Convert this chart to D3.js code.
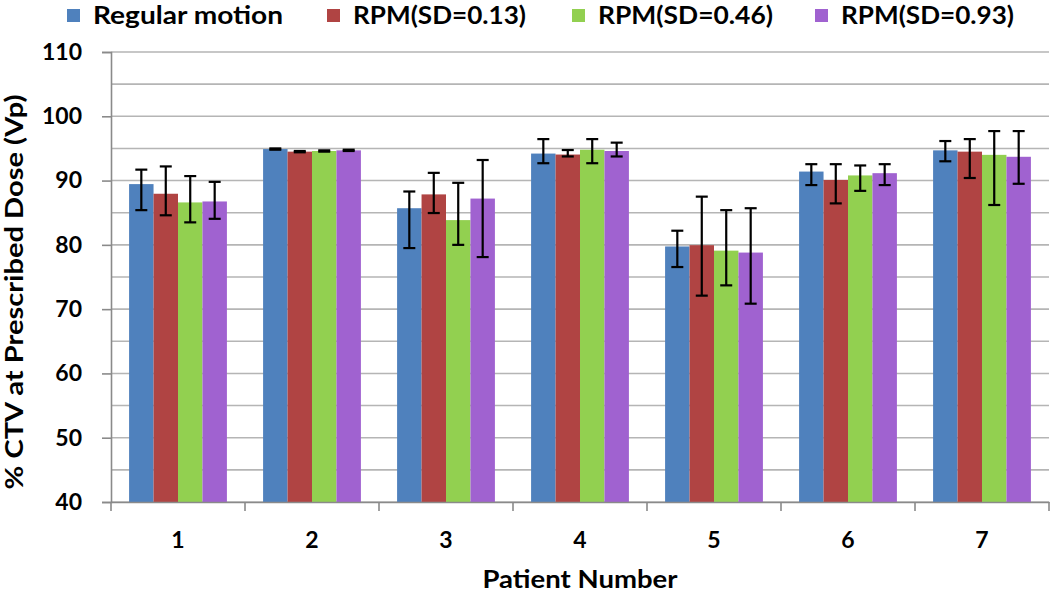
<!DOCTYPE html>
<html>
<head>
<meta charset="utf-8">
<script src="https://cdn.jsdelivr.net/npm/d3@7"></script>
<style>
  html, body { margin: 0; padding: 0; background: #fff; }
  svg { display: block; }
  text { font-family: Lato, "Open Sans", sans-serif; font-weight: bold; fill: #000; }
</style>
</head>
<body>
<svg id="chart" width="1050" height="594"></svg>
<script>
const patients = ["1", "2", "3", "4", "5", "6", "7"];
const seriesNames = ["Regular motion", "RPM(SD=0.13)", "RPM(SD=0.46)", "RPM(SD=0.93)"];
const seriesColors = ["#4f81bd", "#b04443", "#92d050", "#a062d0"];

const regular = [89.45, 94.9, 85.7, 94.2, 79.75, 91.4, 94.7];
const sd013   = [87.95, 94.5, 87.85, 94.05, 79.95, 90.1, 94.5];
const sd046   = [86.6, 94.6, 83.85, 94.8, 79.1, 90.8, 94.0];
const sd093   = [86.75, 94.7, 87.2, 94.6, 78.8, 91.15, 93.7];

const regularHi = [91.7, 95.0, 88.3, 96.45, 82.2, 92.55, 96.15];
const regularLo = [85.4, 94.8, 79.5, 92.7, 76.55, 89.3, 93.0];
const sd013Hi   = [92.2, 94.6, 91.2, 94.75, 87.5, 92.55, 96.45];
const sd013Lo   = [84.6, 94.4, 84.95, 93.75, 72.1, 86.45, 90.4];
const sd046Hi   = [90.7, 94.7, 89.65, 96.45, 85.4, 92.35, 97.7];
const sd046Lo   = [83.5, 94.5, 80.0, 92.7, 73.7, 88.4, 86.2];
const sd093Hi   = [89.8, 94.8, 93.2, 95.9, 85.7, 92.55, 97.7];
const sd093Lo   = [84.05, 94.6, 78.1, 93.75, 70.85, 89.3, 89.5];

const yTicks = [40, 50, 60, 70, 80, 90, 100, 110];
const yGrid = [40, 45, 50, 55, 60, 65, 70, 75, 80, 85, 90, 95, 100, 105, 110];
const yTitle = "% CTV at Prescribed Dose (Vp)";
const xTitle = "Patient Number";

const series = [
  { name: seriesNames[0], color: seriesColors[0], values: regular, hi: regularHi, lo: regularLo },
  { name: seriesNames[1], color: seriesColors[1], values: sd013, hi: sd013Hi, lo: sd013Lo },
  { name: seriesNames[2], color: seriesColors[2], values: sd046, hi: sd046Hi, lo: sd046Lo },
  { name: seriesNames[3], color: seriesColors[3], values: sd093, hi: sd093Hi, lo: sd093Lo }
];

const svg = d3.select("#chart");
const pLeft = 111, pRight = 1049, pTop = 52, pBottom = 502;

const y = d3.scaleLinear().domain([40, 110]).range([pBottom, pTop]);
const x = d3.scaleBand().domain(patients).range([pLeft, pRight]).paddingInner(0.27).paddingOuter(0.135);
const xs = d3.scaleBand().domain(d3.range(series.length)).range([0, x.bandwidth()]);

// gridlines
svg.append("g").selectAll("line").data(yGrid).join("line")
  .attr("x1", pLeft).attr("x2", pRight)
  .attr("y1", d => y(d)).attr("y2", d => y(d))
  .attr("stroke", "#b5b5b5").attr("stroke-width", 1.6);

// bars
const groups = svg.append("g").selectAll("g").data(series).join("g")
  .attr("fill", d => d.color);
groups.selectAll("rect").data((s, si) => patients.map((p, i) => ({ p, v: s.values[i], si })))
  .join("rect")
  .attr("x", d => x(d.p) + xs(d.si))
  .attr("width", xs.bandwidth())
  .attr("y", d => y(d.v))
  .attr("height", d => y(40) - y(d.v));

// y axis
const yAxis = svg.append("g").attr("transform", `translate(${pLeft},0)`)
  .call(d3.axisLeft(y).tickValues(yTicks).tickSize(9).tickPadding(20).tickFormat(d3.format("d")));
yAxis.select(".domain").attr("stroke", "#8a8a8a").attr("stroke-width", 1.6);
yAxis.selectAll(".tick line").attr("stroke", "#8a8a8a").attr("stroke-width", 1.6);
yAxis.selectAll(".tick text").style("font-size", "23px").style("font-family", "Lato, sans-serif").style("font-weight", "bold").attr("fill", "#000");

// x axis
const xAxis = svg.append("g").attr("transform", `translate(0,${pBottom})`)
  .call(d3.axisBottom(x).tickSize(0).tickPadding(30));
xAxis.select(".domain").attr("stroke", "#8a8a8a").attr("stroke-width", 1.6);
xAxis.selectAll(".tick text").style("font-size", "23px").style("font-family", "Lato, sans-serif").style("font-weight", "bold").attr("fill", "#000");
const boundaries = d3.range(patients.length + 1).map(i => pLeft + i * x.step());
xAxis.append("g").selectAll("line").data(boundaries).join("line")
  .attr("x1", d => d).attr("x2", d => d).attr("y1", 0).attr("y2", 9)
  .attr("stroke", "#8a8a8a").attr("stroke-width", 1.6);

// error bars
const capW = 12;
const eb = svg.append("g").attr("stroke", "#000").attr("stroke-width", 2.2);
series.forEach((s, si) => {
  patients.forEach((p, i) => {
    const cx = x(p) + xs(si) + xs.bandwidth() / 2;
    const g = eb.append("g");
    g.append("line").attr("x1", cx).attr("x2", cx).attr("y1", y(s.hi[i])).attr("y2", y(s.lo[i]));
    g.append("line").attr("x1", cx - capW / 2).attr("x2", cx + capW / 2).attr("y1", y(s.hi[i])).attr("y2", y(s.hi[i]));
    g.append("line").attr("x1", cx - capW / 2).attr("x2", cx + capW / 2).attr("y1", y(s.lo[i])).attr("y2", y(s.lo[i]));
  });
});

// axis titles
svg.append("text").attr("x", 580).attr("y", 588)
  .attr("text-anchor", "middle").style("font-size", "25px")
  .attr("textLength", 195).attr("lengthAdjust", "spacingAndGlyphs").text(xTitle);
svg.append("text").attr("transform", "translate(23,292) rotate(-90)")
  .attr("text-anchor", "middle").style("font-size", "24px")
  .attr("textLength", 395).attr("lengthAdjust", "spacingAndGlyphs").text(yTitle);

// legend
const legendX = [67, 327, 572, 815];
const legendW = [190, 173, 175, 173];
const lg = svg.append("g").selectAll("g").data(series).join("g")
  .attr("transform", (d, i) => `translate(${legendX[i]},0)`);
lg.append("rect").attr("x", 0).attr("y", 9).attr("width", 13).attr("height", 13).attr("fill", d => d.color);
lg.append("text").attr("x", 26).attr("y", 24).style("font-size", "24px")
  .attr("textLength", (d, i) => legendW[i]).attr("lengthAdjust", "spacingAndGlyphs")
  .text(d => d.name);
</script>
</body>
</html>
